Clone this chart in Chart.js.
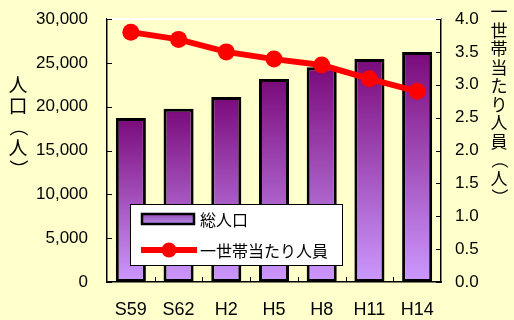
<!DOCTYPE html>
<html>
<head>
<meta charset="utf-8">
<script src="https://cdn.jsdelivr.net/npm/chart.js@4/dist/chart.umd.min.js"></script>
<style>
  html, body { margin: 0; padding: 0; background: #ffffcc; }
  #wrap { width: 514px; height: 320px; position: relative; }
</style>
</head>
<body>
<div id="wrap"><canvas id="c" width="514" height="320"></canvas></div>
<script>
// Survey years (Showa / Heisei)
const years = ['S59', 'S62', 'H2', 'H5', 'H8', 'H11', 'H14'];
// Total population (persons)
const population = [18700, 19750, 21100, 23150, 24500, 25450, 26250];
// Persons per household
const perHousehold = [3.80, 3.69, 3.50, 3.39, 3.30, 3.09, 2.90];
// Series names and axis titles
const seriesNames = ['総人口', '一世帯当たり人員'];
const leftTitle = '人口（人）';
const rightTitle = '一世帯当たり人員（人）';

const tickFont = { family: '"Liberation Sans", Arial, sans-serif', size: 17 };
const catFont = { family: '"Liberation Sans", Arial, sans-serif', size: 18 };
const jpFont = '"Noto Sans CJK JP", sans-serif';

function barGradient(ctx) {
  const chart = ctx.chart;
  const ys = chart.scales.y;
  if (!ys || ctx.type !== 'data') return '#a060c8';
  const top = ys.getPixelForValue(ctx.raw);
  const bottom = ys.getPixelForValue(0);
  if (!isFinite(top) || !isFinite(bottom) || top === bottom) return '#a060c8';
  const g = chart.ctx.createLinearGradient(0, top, 0, bottom);
  g.addColorStop(0, '#7a0a7a');
  g.addColorStop(1, '#cc99ff');
  return g;
}

// Upright stacked characters for the axis titles; brackets are turned 90°
function drawVertical(ctx, text, x, y0, pitch, size) {
  ctx.save();
  ctx.font = size + 'px ' + jpFont;
  ctx.fillStyle = '#000';
  ctx.textAlign = 'center';
  ctx.textBaseline = 'middle';
  [...text].forEach((ch, i) => {
    const y = y0 + i * pitch;
    if (ch === '（' || ch === '）') {
      ctx.save();
      ctx.translate(x, y);
      ctx.rotate(Math.PI / 2);
      ctx.fillText(ch, 0, 0);
      ctx.restore();
    } else {
      ctx.fillText(ch, x, y);
    }
  });
  ctx.restore();
}

// fixed axis sizes; the tick padding must not push the plot down
function fixWidth(w) {
  return s => { s.width = w; s.paddingTop = 0; s.paddingBottom = 0; };
}

const decor = {
  id: 'decor',
  beforeDatasetsDraw(chart) {
    const { ctx, chartArea: a } = chart;
    ctx.save();
    // white rule along the top of the plot
    ctx.strokeStyle = '#ffffff';
    ctx.lineWidth = 2;
    ctx.beginPath();
    ctx.moveTo(a.left, a.top);
    ctx.lineTo(a.right, a.top);
    ctx.stroke();
    // inward tick marks
    ctx.strokeStyle = '#000';
    ctx.lineWidth = 1;
    const y = chart.scales.y, y1 = chart.scales.y1, x = chart.scales.x;
    y.ticks.forEach(t => {
      const p = Math.round(y.getPixelForValue(t.value)) + 0.5;
      ctx.beginPath(); ctx.moveTo(a.left, p); ctx.lineTo(a.left + 5, p); ctx.stroke();
    });
    y1.ticks.forEach(t => {
      const p = Math.round(y1.getPixelForValue(t.value)) + 0.5;
      ctx.beginPath(); ctx.moveTo(a.right, p); ctx.lineTo(a.right - 5, p); ctx.stroke();
    });
    const n = years.length;
    for (let i = 1; i < n; i++) {
      const px = Math.round((x.getPixelForValue(i - 1) + x.getPixelForValue(i)) / 2) + 0.5;
      ctx.beginPath(); ctx.moveTo(px, a.bottom); ctx.lineTo(px, a.bottom - 5); ctx.stroke();
    }
    ctx.restore();
  },
  afterDatasetsDraw(chart) {
    const ctx = chart.ctx;
    ctx.save();
    // legend box
    ctx.fillStyle = '#ffffff';
    ctx.fillRect(130, 204, 213, 62);
    ctx.strokeStyle = '#000';
    ctx.lineWidth = 1;
    ctx.strokeRect(130.5, 204.5, 212, 61);
    // bar swatch
    const g = ctx.createLinearGradient(0, 214, 0, 225);
    g.addColorStop(0, '#9450b8');
    g.addColorStop(1, '#c090f0');
    ctx.fillStyle = g;
    ctx.fillRect(142, 214, 52, 10);
    ctx.lineWidth = 2.5;
    ctx.strokeStyle = '#000';
    ctx.strokeRect(142, 214, 52, 10);
    // line swatch
    ctx.strokeStyle = '#ff0000';
    ctx.lineWidth = 6;
    ctx.beginPath(); ctx.moveTo(141, 250); ctx.lineTo(197, 250); ctx.stroke();
    ctx.fillStyle = '#ff0000';
    ctx.beginPath(); ctx.arc(169, 250, 7.5, 0, Math.PI * 2); ctx.fill();
    // labels
    ctx.fillStyle = '#000';
    ctx.font = '16px ' + jpFont;
    ctx.textAlign = 'left';
    ctx.textBaseline = 'middle';
    ctx.fillText(seriesNames[0], 200, 220);
    ctx.fillText(seriesNames[1], 200, 251);
    ctx.restore();

    drawVertical(ctx, leftTitle, 18, 85, 21, 19);
    drawVertical(ctx, rightTitle, 499, 12, 18.5, 17);
  }
};

new Chart(document.getElementById('c'), {
  data: {
    labels: years,
    datasets: [
      {
        type: 'line',
        label: seriesNames[1],
        data: perHousehold,
        yAxisID: 'y1',
        borderColor: '#ff0000',
        backgroundColor: '#ff0000',
        borderWidth: 6,
        pointRadius: 8.5,
        pointBorderWidth: 0,
        pointBackgroundColor: '#ff0000',
        tension: 0,
        order: 0
      },
      {
        type: 'bar',
        label: seriesNames[0],
        data: population,
        yAxisID: 'y',
        backgroundColor: barGradient,
        borderColor: '#000',
        borderWidth: 3,
        borderSkipped: false,
        barPercentage: 0.63,
        categoryPercentage: 1,
        order: 1
      }
    ]
  },
  options: {
    responsive: false,
    animation: false,
    devicePixelRatio: 1,
    layout: { padding: { top: 19, left: 0, right: 0, bottom: 0 } },
    plugins: { legend: { display: false }, tooltip: { enabled: false } },
    scales: {
      x: {
        grid: { display: false, drawTicks: false },
        border: { display: true, color: '#000', width: 1.5 },
        ticks: { font: catFont, color: '#000', padding: 17, maxRotation: 0 },
        afterFit(s) { s.height = 38; }
      },
      y: {
        position: 'left',
        min: 0, max: 30000,
        grid: { display: false, drawTicks: false },
        border: { display: true, color: '#000', width: 1.5 },
        ticks: {
          stepSize: 5000, font: tickFont, color: '#000', padding: 19,
          callback: v => v.toLocaleString('en-US')
        },
        afterFit: fixWidth(107)
      },
      y1: {
        position: 'right',
        min: 0, max: 4,
        grid: { display: false, drawTicks: false },
        border: { display: true, color: '#000', width: 1.5 },
        ticks: {
          stepSize: 0.5, font: tickFont, color: '#000', padding: 14,
          callback: v => v.toFixed(1)
        },
        afterFit: fixWidth(73)
      }
    }
  },
  plugins: [decor]
});
</script>
</body>
</html>
